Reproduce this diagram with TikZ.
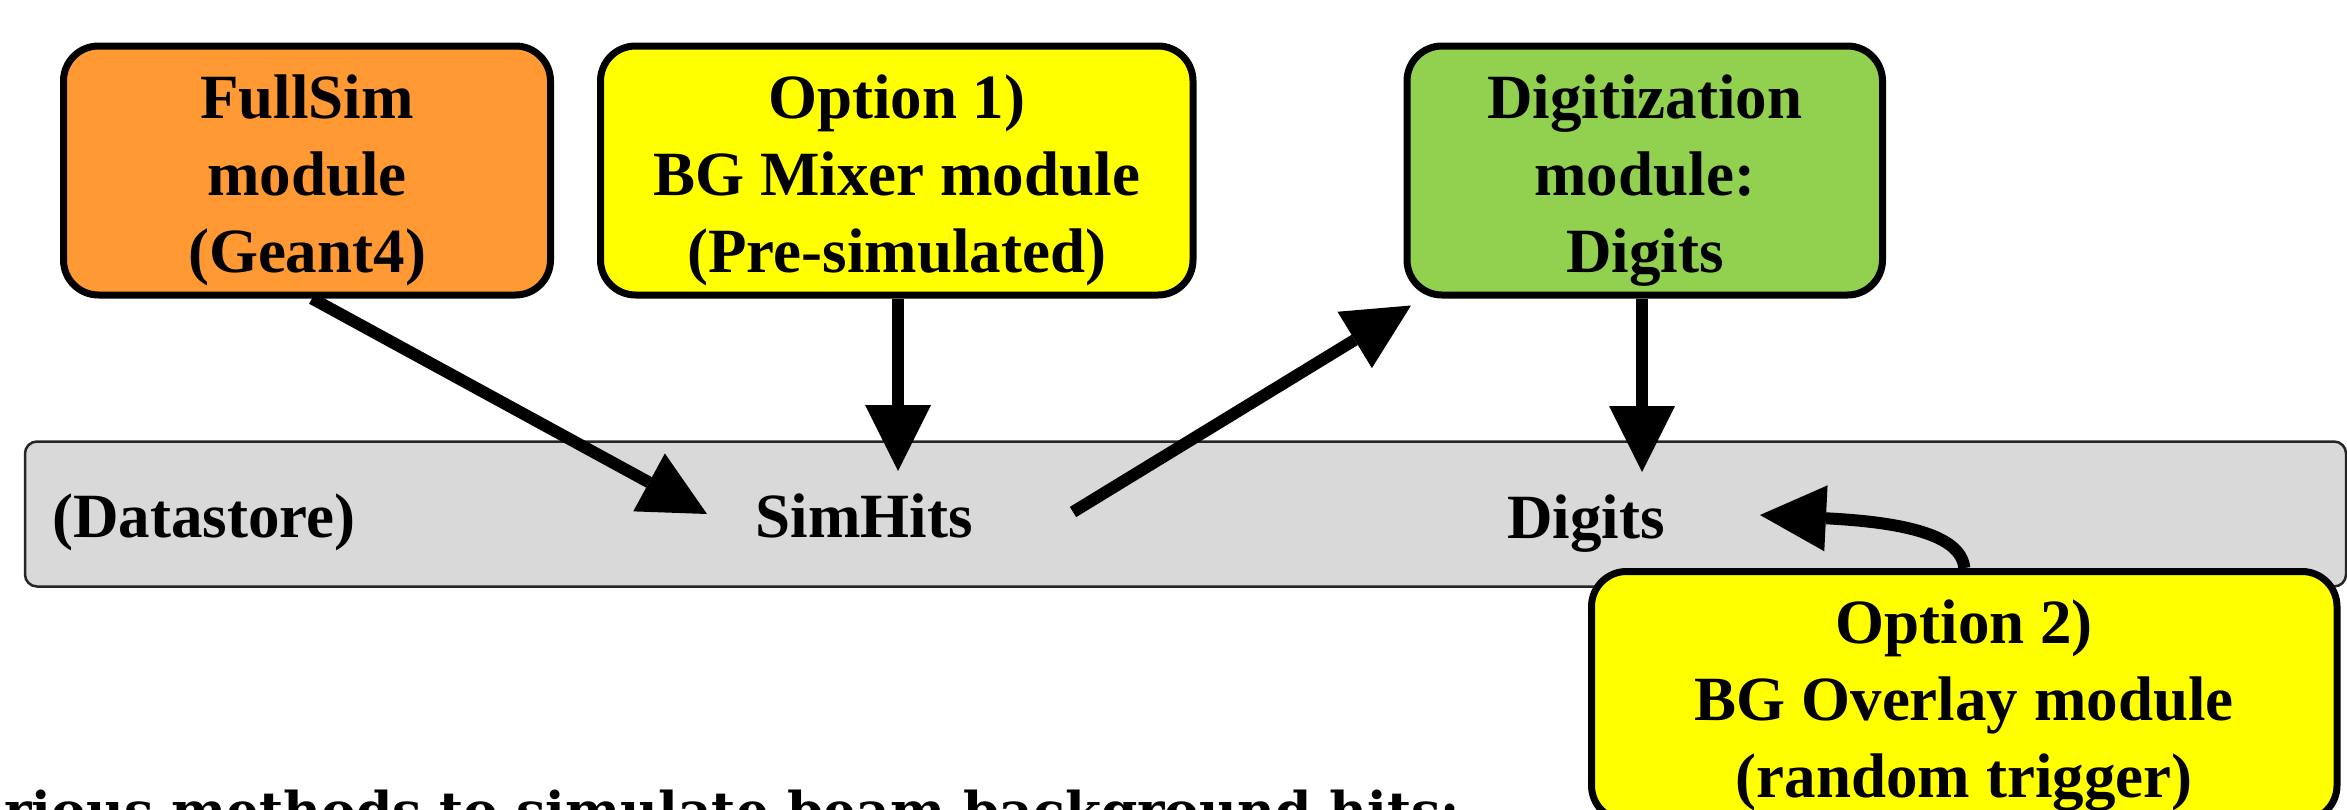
\documentclass[tikz,border=0pt]{standalone}
\usepackage{fontspec}
\setmainfont{Liberation Serif}
\newfontfamily\captionserif{DejaVu Serif}
\usetikzlibrary{arrows.meta,calc}
\definecolor{orangefill}{HTML}{FF9933}
\definecolor{yellowfill}{HTML}{FFFF00}
\definecolor{greenfill}{HTML}{92D050}
\definecolor{barfill}{HTML}{D9D9D9}
\newcommand\boxfont{\fontsize{63}{77}\selectfont\bfseries}
\newcommand\mytopstrut{\rule{0pt}{72pt}}
\newcommand\mybotstrut{\rule[-23pt]{0pt}{23pt}}
\begin{document}
\begin{tikzpicture}[x=1pt,y=-1pt,
  box/.style={draw=black, line width=7pt, rounded corners=35pt, align=center,
    font=\boxfont, inner sep=0pt, minimum height=247pt},
  lbl/.style={font=\boxfont, inner sep=0pt, anchor=base},
  arr/.style={line width=12pt,
    -{Triangle[length=66pt,width=66pt,line width=0pt]}},
]
\useasboundingbox (0,0) rectangle (2347,809);

% datastore bar
\node[draw=black!85, line width=2.5pt, fill=barfill, rounded corners=12pt,
  minimum width=2321pt, minimum height=145pt, inner sep=0pt] (ds) at (1185.5,514) {};
\node[lbl, anchor=base west] (dstore) at (52,537) {(Datastore)};
\node[lbl] (simhits) at (864,537) {SimHits};
\node[lbl] (digits) at (1586,538) {Digits};

% module boxes
\node[box, fill=orangefill, minimum width=487pt] (fullsim) at (307,170.5)
  {\mytopstrut FullSim\\module\\(Geant4)\mybotstrut};
\node[box, fill=yellowfill, minimum width=592.5pt] (option1) at (896.75,170.5)
  {\mytopstrut Option 1)\\BG Mixer module\\(Pre-simulated)\mybotstrut};
\node[box, fill=greenfill, minimum width=475.5pt] (digit) at (1644.75,170.5)
  {\mytopstrut Digitization\\module:\\Digits\mybotstrut};
\node[box, fill=yellowfill, minimum width=745.5pt] (option2) at (1964.25,696)
  {\mytopstrut Option 2)\\BG Overlay module\\(random trigger)\mybotstrut};

% connector end points next to the labels
\coordinate (simL) at ($(simhits.base)+(-157,-23)$);
\coordinate (simT) at ($(simhits.base)+(34,-66)$);
\coordinate (simR) at ($(simhits.base)+(209,-25)$);
\coordinate (digT) at ($(digits.base)+(56,-66)$);
\coordinate (digR) at ($(digits.base)+(174,-23)$);

% connectors
\draw[arr] ($(fullsim.south)+(5,0)$) -- (simL);
\draw[arr] (simT |- option1.south) -- (simT);
\draw[arr] (simR) -- ($(digit.south west)+(7.5,7)$);
\draw[arr] (digT |- digit.south) -- (digT);
\draw[arr] (option2.north) .. controls ($(option2.north)+(-3,-34)$)
  and ($(digR)+(140,7)$) .. (digR);

% caption (cut by the lower and left edges, as in the original slide)
\node[font=\captionserif\bfseries\fontsize{52}{62}\selectfont, anchor=base east,
  inner sep=0pt] (caption) at (1460,829) {Various methods to simulate beam background hits:};
\end{tikzpicture}
\end{document}
